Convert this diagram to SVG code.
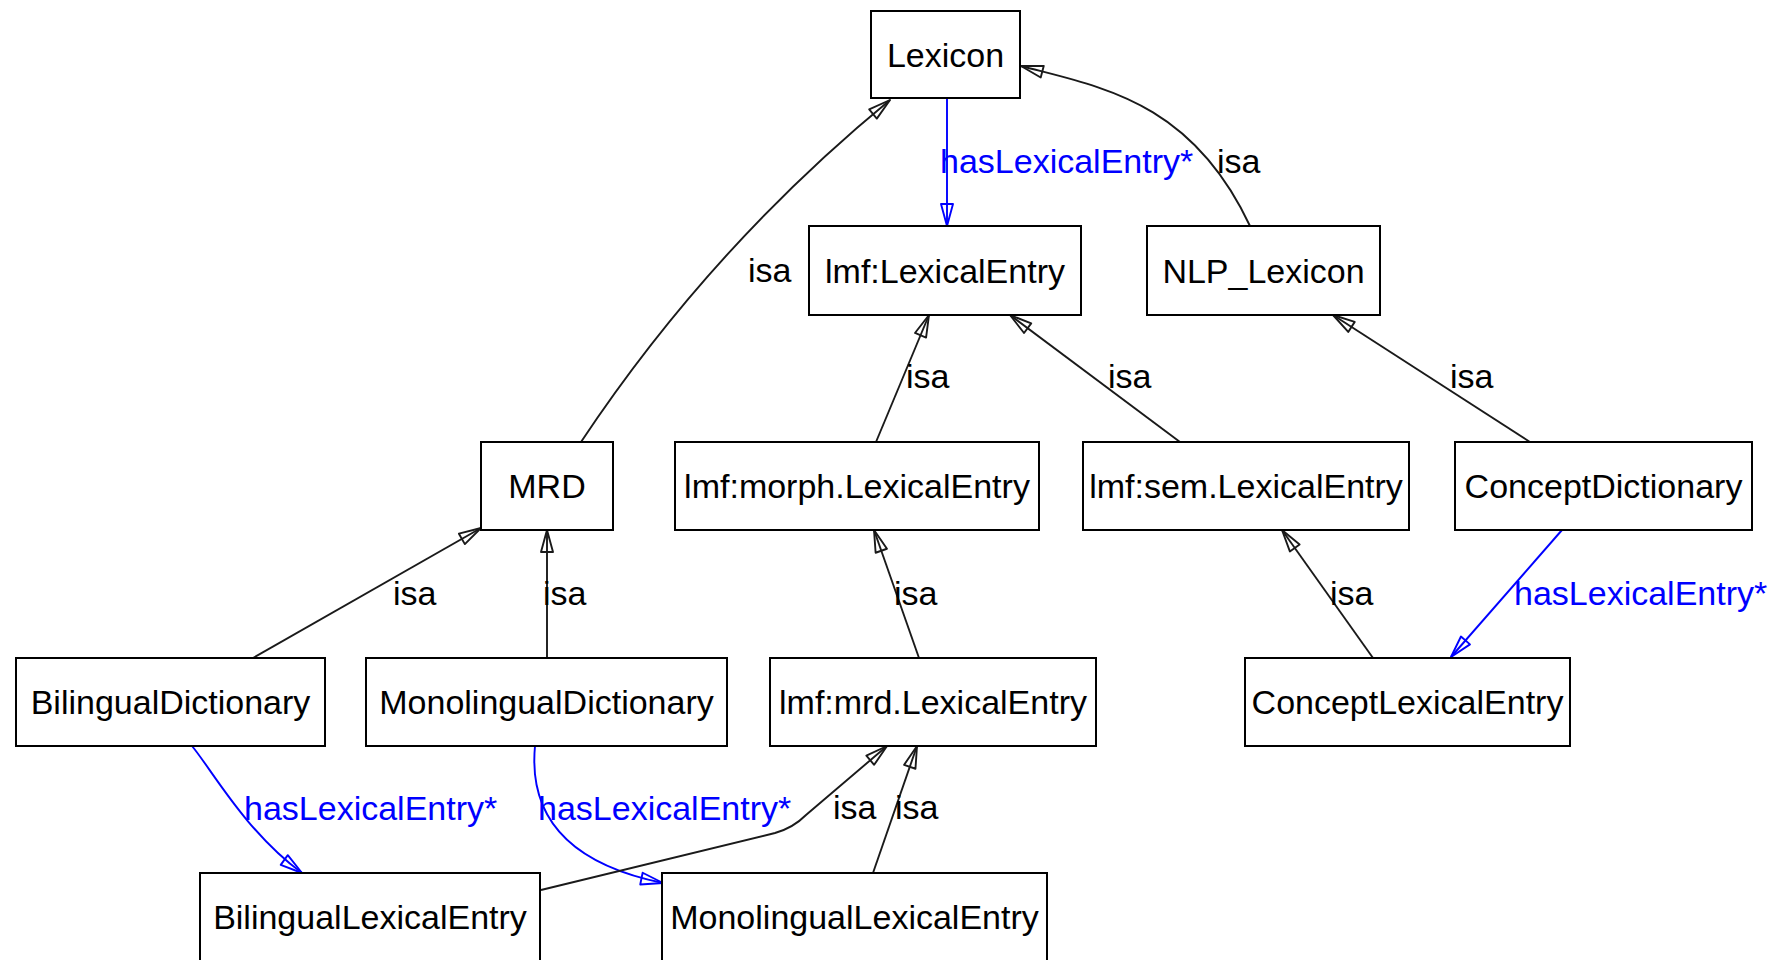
<svg xmlns="http://www.w3.org/2000/svg" width="1774" height="960" viewBox="0 0 1774 960">
  <style>
    .node rect { fill: #ffffff; stroke: #000000; stroke-width: 2; }
    .node text { font-family: "Liberation Sans", Arial, sans-serif; font-size: 34px; fill: #000000; text-anchor: middle; }
    .edge { fill: none; stroke-width: 1.9; }
    .isa { stroke: #1a1a1a; marker-end: url(#open-black); }
    .has { stroke: #0000ff; marker-end: url(#open-blue); }
    .lbl { font-family: "Liberation Sans", Arial, sans-serif; font-size: 34px; }
    .lbl-isa { fill: #000000; }
    .lbl-has { fill: #0000ff; }
  </style>
  <defs>
    <marker id="open-black" markerUnits="userSpaceOnUse" markerWidth="26" markerHeight="16" refX="22" refY="6.5" orient="auto" overflow="visible">
      <path d="M0,0.5 L22,6.5 L0,12.5 Z" fill="none" stroke="#1a1a1a" stroke-width="1.9" stroke-linejoin="round"/>
    </marker>
    <marker id="open-blue" markerUnits="userSpaceOnUse" markerWidth="26" markerHeight="16" refX="22" refY="6.5" orient="auto" overflow="visible">
      <path d="M0,0.5 L22,6.5 L0,12.5 Z" fill="none" stroke="#0000ff" stroke-width="1.9" stroke-linejoin="round"/>
    </marker>
  </defs>

  <rect x="0" y="0" width="1774" height="960" fill="#ffffff"/>

  <!-- connectors -->
  <g id="edges">
    <path class="edge isa" d="M581,442 Q710,248 890,100"/>
    <path class="edge has" d="M947,98 L947,226"/>
    <path class="edge isa" d="M1250,226 C1191,100 1100,87 1021,66"/>
    <path class="edge isa" d="M876,442 L929,315"/>
    <path class="edge isa" d="M1180,442 L1010,315"/>
    <path class="edge isa" d="M1530,442 L1333,315"/>
    <path class="edge isa" d="M253,658 L481,528"/>
    <path class="edge isa" d="M547,658 L547,530"/>
    <path class="edge isa" d="M919,658 L874,530"/>
    <path class="edge isa" d="M1373,658 L1282,530"/>
    <path class="edge has" d="M1562,530 L1451,657"/>
    <path class="edge has" d="M192,746 C212,770 246,832 302,873"/>
    <path class="edge has" d="M535,746 C529,810 560,862 663,883"/>
    <path class="edge isa" d="M541,890 L775,833 Q793,828 806,815 L887,746"/>
    <path class="edge isa" d="M873,873 L917,746"/>

    <text class="lbl lbl-isa" x="748" y="282">isa</text>
    <text class="lbl lbl-has" x="940" y="173">hasLexicalEntry*</text>
    <text class="lbl lbl-isa" x="1217" y="173">isa</text>
    <text class="lbl lbl-isa" x="906" y="388">isa</text>
    <text class="lbl lbl-isa" x="1108" y="388">isa</text>
    <text class="lbl lbl-isa" x="1450" y="388">isa</text>
    <text class="lbl lbl-isa" x="393" y="605">isa</text>
    <text class="lbl lbl-isa" x="543" y="605">isa</text>
    <text class="lbl lbl-isa" x="894" y="605">isa</text>
    <text class="lbl lbl-isa" x="1330" y="605">isa</text>
    <text class="lbl lbl-has" x="1514" y="605">hasLexicalEntry*</text>
    <text class="lbl lbl-has" x="244" y="820">hasLexicalEntry*</text>
    <text class="lbl lbl-has" x="538" y="820">hasLexicalEntry*</text>
    <text class="lbl lbl-isa" x="833" y="819">isa</text>
    <text class="lbl lbl-isa" x="895" y="819">isa</text>
  </g>

  <!-- nodes -->
  <g id="Lexicon" class="node">
    <rect x="871" y="11" width="149" height="87"/>
    <text x="945.5" y="66.5">Lexicon</text>
  </g>
  <g id="lmf_LexicalEntry" class="node">
    <rect x="809" y="226" width="272" height="89"/>
    <text x="945" y="282.5">lmf:LexicalEntry</text>
  </g>
  <g id="NLP_Lexicon" class="node">
    <rect x="1147" y="226" width="233" height="89"/>
    <text x="1263.5" y="282.5">NLP_Lexicon</text>
  </g>
  <g id="MRD" class="node">
    <rect x="481" y="442" width="132" height="88"/>
    <text x="547" y="498">MRD</text>
  </g>
  <g id="lmf_morph_LexicalEntry" class="node">
    <rect x="675" y="442" width="364" height="88"/>
    <text x="857" y="498">lmf:morph.LexicalEntry</text>
  </g>
  <g id="lmf_sem_LexicalEntry" class="node">
    <rect x="1083" y="442" width="326" height="88"/>
    <text x="1246" y="498">lmf:sem.LexicalEntry</text>
  </g>
  <g id="ConceptDictionary" class="node">
    <rect x="1455" y="442" width="297" height="88"/>
    <text x="1603.5" y="498">ConceptDictionary</text>
  </g>
  <g id="BilingualDictionary" class="node">
    <rect x="16" y="658" width="309" height="88"/>
    <text x="170.5" y="714">BilingualDictionary</text>
  </g>
  <g id="MonolingualDictionary" class="node">
    <rect x="366" y="658" width="361" height="88"/>
    <text x="546.5" y="714">MonolingualDictionary</text>
  </g>
  <g id="lmf_mrd_LexicalEntry" class="node">
    <rect x="770" y="658" width="326" height="88"/>
    <text x="933" y="714">lmf:mrd.LexicalEntry</text>
  </g>
  <g id="ConceptLexicalEntry" class="node">
    <rect x="1245" y="658" width="325" height="88"/>
    <text x="1407.5" y="714">ConceptLexicalEntry</text>
  </g>
  <g id="BilingualLexicalEntry" class="node">
    <rect x="200" y="873" width="340" height="90"/>
    <text x="370" y="929">BilingualLexicalEntry</text>
  </g>
  <g id="MonolingualLexicalEntry" class="node">
    <rect x="662" y="873" width="385" height="90"/>
    <text x="854.5" y="929">MonolingualLexicalEntry</text>
  </g>
</svg>
